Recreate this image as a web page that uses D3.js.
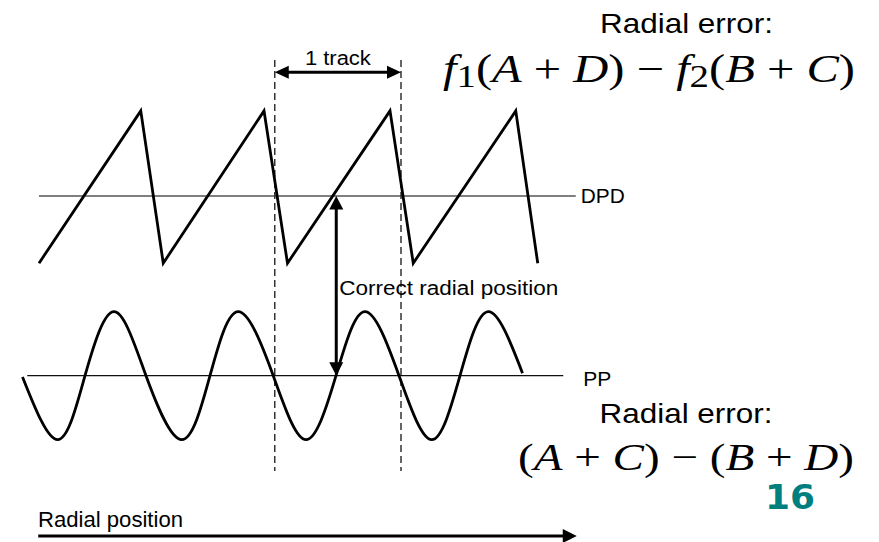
<!DOCTYPE html>
<html><head><meta charset="utf-8">
<script src="https://cdn.jsdelivr.net/npm/d3@7"></script>
<style>body{margin:0;background:#fff} svg{display:block}</style>
</head><body><svg id="chart" width="879" height="542"></svg>
<script>
// ---- data (x in track units, y in signal units) ----
const dpdX = [-0.368, 0.446, 0.626, 1.432, 1.62, 2.44, 2.626, 3.446, 3.622];
const dpdY = [-1.05, 1.33, -1.05, 1.33, -1.05, 1.33, -1.05, 1.33, -1.05];
const ppX  = [-0.5, -0.218, 0, 0.232, 0.488, 0.774, 1.0, 1.226, 1.506, 1.768, 2.008, 2.24, 2.512, 2.774, 3.0, 3.226, 3.5];
const ppY  = [-0.02, -1, 0, 1, 0, -1, 0, 1, 0, -1, 0, 1, 0, -1, 0, 1, 0.04];
const trackBounds = [1.518, 2.528];
const correctPos = 2.01;
const dpdLineExtent = [-0.368, 3.926];
const ppLineExtent = [-0.462, 3.826];
const radialAxisExtent = [-0.374, 3.934];
const seriesLabels = ["DPD", "PP"];
const trackLabel = "1 track";
const correctLabel = "Correct radial position";
const axisLabel = "Radial position";
const errorTitle = "Radial error:";
const pageNumber = "16";

const svg = d3.select("#chart");
const x = d3.scaleLinear().domain([0, 1]).range([85, 210]);
const yDpd = d3.scaleLinear().domain([0, 1]).range([196, 132]);
const yPp = d3.scaleLinear().domain([0, 1]).range([375.7, 311.7]);

function head(tx, ty, dir, len, half) {
  let pts;
  if (dir === "right") pts = [[tx, ty], [tx - len, ty - half], [tx - len, ty + half]];
  if (dir === "left") pts = [[tx, ty], [tx + len, ty - half], [tx + len, ty + half]];
  if (dir === "up") pts = [[tx, ty], [tx - half, ty + len], [tx + half, ty + len]];
  if (dir === "down") pts = [[tx, ty], [tx - half, ty - len], [tx + half, ty - len]];
  svg.append("path").attr("d", "M" + pts.join("L") + "Z").attr("fill", "#000");
}
function label(txt, px, py, size, width, anchor) {
  const t = svg.append("text").attr("x", px).attr("y", py)
    .attr("font-family", "Liberation Sans, Arial, sans-serif")
    .attr("font-size", size).attr("fill", "#000")
    .attr("text-anchor", anchor || "start").text(txt);
  if (width) t.attr("textLength", width).attr("lengthAdjust", "spacingAndGlyphs");
  return t;
}

// reference lines
svg.append("line").attr("x1", x(dpdLineExtent[0])).attr("x2", x(dpdLineExtent[1]))
  .attr("y1", yDpd(0)).attr("y2", yDpd(0)).attr("stroke", "#555").attr("stroke-width", 1.6);
svg.append("line").attr("x1", x(ppLineExtent[0])).attr("x2", x(ppLineExtent[1]))
  .attr("y1", yPp(0)).attr("y2", yPp(0)).attr("stroke", "#111").attr("stroke-width", 1.3);

// dashed track boundaries
trackBounds.forEach(b => {
  svg.append("line").attr("x1", x(b)).attr("x2", x(b)).attr("y1", 60).attr("y2", 471)
    .attr("stroke", "#333").attr("stroke-width", 1.5).attr("stroke-dasharray", "7,4");
});

// DPD sawtooth
const dpdData = dpdX.map((v, i) => [v, dpdY[i]]);
svg.append("path").datum(dpdData)
  .attr("d", d3.line().x(d => x(d[0])).y(d => yDpd(d[1])))
  .attr("fill", "none").attr("stroke", "#000").attr("stroke-width", 2.8).attr("stroke-linejoin", "miter");

// PP sinusoid
const ppData = ppX.map((v, i) => [v, ppY[i]]);
svg.append("path").datum(ppData)
  .attr("d", d3.line().curve(d3.curveNatural).x(d => x(d[0])).y(d => yPp(d[1])))
  .attr("fill", "none").attr("stroke", "#000").attr("stroke-width", 2.8);

// series labels
label(seriesLabels[0], x(dpdLineExtent[1]) + 5, 203.3, 21, 44);
label(seriesLabels[1], x(ppLineExtent[1]) + 20, 386, 21, 28);

// 1 track arrow
const ay = 72.3;
svg.append("line").attr("x1", x(trackBounds[0]) + 10).attr("x2", x(trackBounds[1]) - 10)
  .attr("y1", ay).attr("y2", ay).attr("stroke", "#000").attr("stroke-width", 3);
head(x(trackBounds[0]), ay, "left", 14, 6.5);
head(x(trackBounds[1]), ay, "right", 14, 6.5);
label(trackLabel, (x(trackBounds[0]) + x(trackBounds[1])) / 2, 65, 20, 66, "middle");

// correct radial position arrow
svg.append("line").attr("x1", x(correctPos)).attr("x2", x(correctPos))
  .attr("y1", yDpd(0) + 10).attr("y2", yPp(0) - 10).attr("stroke", "#000").attr("stroke-width", 3);
head(x(correctPos), yDpd(0), "up", 13.5, 7);
head(x(correctPos), yPp(0), "down", 13.5, 7);
label(correctLabel, x(correctPos) + 3, 295, 20, 219);

// radial position axis
svg.append("line").attr("x1", x(radialAxisExtent[0])).attr("x2", x(radialAxisExtent[1]) - 10)
  .attr("y1", 536).attr("y2", 536).attr("stroke", "#000").attr("stroke-width", 3);
head(x(radialAxisExtent[1]), 536, "right", 14, 7);
label(axisLabel, 38, 527.3, 22, 145);

// titles
label(errorTitle, 600, 33.3, 28, 173);
label(errorTitle, 599.5, 423.3, 28, 173);

// formulas
function formula(parts, px, py, size, width) {
  const t = svg.append("text").attr("x", px).attr("y", py)
    .attr("font-family", "Liberation Serif, Times New Roman, serif")
    .attr("font-size", size).attr("fill", "#000")
    .attr("textLength", width).attr("lengthAdjust", "spacingAndGlyphs");
  let shift = 0;
  parts.forEach(p => {
    const s = t.append("tspan").text(p.t);
    if (p.i) s.attr("font-style", "italic");
    let target = p.sub ? 5 : 0;
    if (target !== shift) { s.attr("dy", target - shift); shift = target; }
    if (p.sub) s.attr("font-size", size * 0.8);
  });
  return t;
}
formula([
  {t: "f", i: 1}, {t: "1", sub: 1}, {t: "("}, {t: "A", i: 1}, {t: " + "}, {t: "D", i: 1}, {t: ")"},
  {t: " − "}, {t: "f", i: 1}, {t: "2", sub: 1}, {t: "("}, {t: "B", i: 1}, {t: " + "}, {t: "C", i: 1}, {t: ")"}
], 443, 81.7, 40, 412);
formula([
  {t: "("}, {t: "A", i: 1}, {t: " + "}, {t: "C", i: 1}, {t: ")"}, {t: " − "},
  {t: "("}, {t: "B", i: 1}, {t: " + "}, {t: "D", i: 1}, {t: ")"}
], 518, 470, 38, 336);

// page number
svg.append("text").attr("x", 765).attr("y", 508.5)
  .attr("font-family", "DejaVu Sans, Verdana, sans-serif").attr("font-weight", "bold")
  .attr("font-size", 33).attr("fill", "#007f7f")
  .attr("textLength", 50).attr("lengthAdjust", "spacingAndGlyphs").text(pageNumber);
</script></body></html>
